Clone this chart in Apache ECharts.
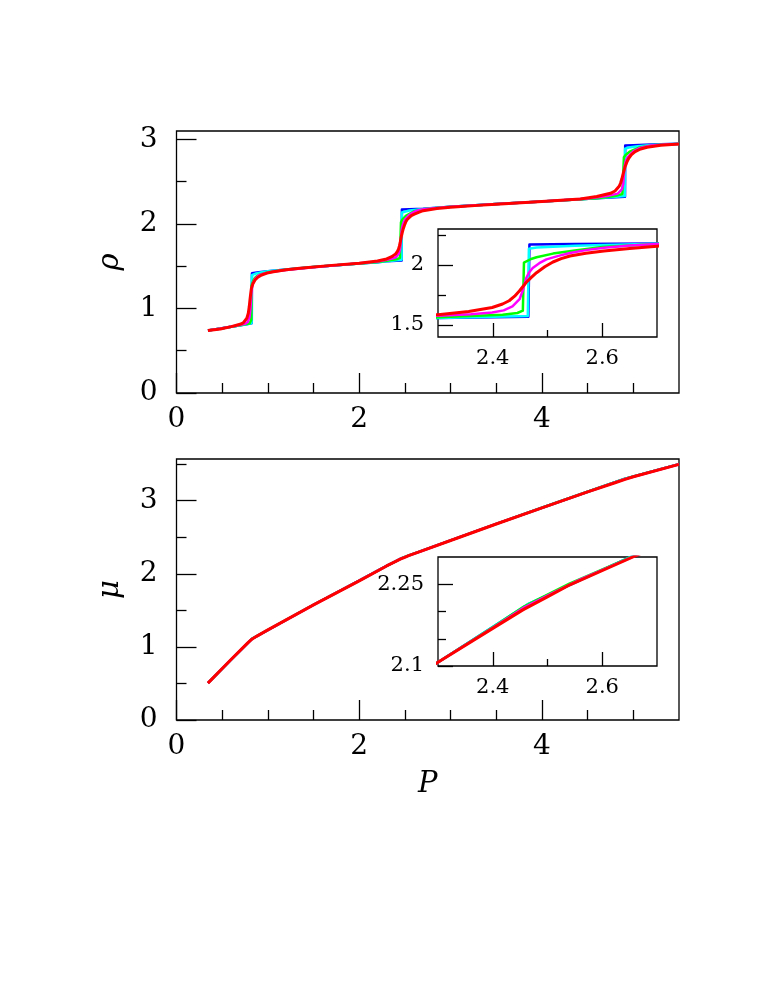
<!DOCTYPE html>
<html>
<head>
<meta charset="utf-8">
<script src="https://cdn.jsdelivr.net/npm/echarts@6/dist/echarts.min.js"></script>
<style>
  html, body { margin: 0; padding: 0; background: #fff; }
  #chart { width: 763px; height: 987px; }
</style>
</head>
<body>
<div id="chart"></div>
<script>
const rhoBlue = [[0.344, 0.74], [0.5, 0.767], [0.65, 0.793], [0.75, 0.811], [0.824, 0.825], [0.826, 1.418], [0.9, 1.43], [1.0, 1.44], [1.2, 1.46], [1.5, 1.49], [2.0, 1.532], [2.2, 1.547], [2.3, 1.558], [2.465, 1.569], [2.467, 2.171], [2.55, 2.174], [2.7, 2.18], [2.85, 2.193], [3.0, 2.205], [3.5, 2.235], [4.0, 2.265], [4.42, 2.292], [4.7, 2.31], [4.909, 2.323], [4.911, 2.927], [5.0, 2.932], [5.2, 2.94], [5.5, 2.948]]
const rhoCyan = [[0.344, 0.74], [0.5, 0.767], [0.65, 0.793], [0.75, 0.811], [0.822, 0.826], [0.824, 1.395], [0.86, 1.41], [0.92, 1.425], [1.0, 1.44], [1.2, 1.46], [1.5, 1.49], [2.0, 1.532], [2.2, 1.547], [2.3, 1.558], [2.464, 1.576], [2.466, 2.135], [2.48, 2.145], [2.55, 2.16], [2.7, 2.178], [2.85, 2.193], [3.0, 2.205], [3.5, 2.235], [4.0, 2.265], [4.42, 2.292], [4.7, 2.312], [4.907, 2.33], [4.909, 2.89], [4.95, 2.905], [5.05, 2.92], [5.2, 2.935], [5.5, 2.948]]
const rhoGreen = [[0.344, 0.74], [0.5, 0.767], [0.65, 0.793], [0.75, 0.812], [0.8, 0.822], [0.816, 0.84], [0.819, 0.87], [0.821, 1.27], [0.83, 1.30], [0.845, 1.34], [0.87, 1.375], [0.91, 1.40], [1.0, 1.43], [1.2, 1.458], [1.5, 1.49], [2.0, 1.532], [2.2, 1.549], [2.3, 1.564], [2.418, 1.586], [2.445, 1.60], [2.455, 1.62], [2.457, 2.02], [2.47, 2.05], [2.48, 2.065], [2.51, 2.095], [2.55, 2.12], [2.6, 2.15], [2.7, 2.175], [2.85, 2.19], [3.0, 2.205], [3.5, 2.235], [4.0, 2.265], [4.42, 2.292], [4.6, 2.305], [4.8, 2.33], [4.88, 2.355], [4.895, 2.375], [4.897, 2.79], [4.915, 2.815], [4.96, 2.855], [5.01, 2.88], [5.07, 2.905], [5.2, 2.93], [5.5, 2.947]]
const rhoMagenta = [[0.344, 0.74], [0.5, 0.767], [0.65, 0.795], [0.75, 0.818], [0.78, 0.84], [0.80, 0.90], [0.81, 1.0], [0.818, 1.15], [0.826, 1.25], [0.84, 1.31], [0.86, 1.35], [0.9, 1.39], [0.96, 1.415], [1.05, 1.435], [1.2, 1.455], [1.5, 1.488], [2.0, 1.535], [2.2, 1.555], [2.3, 1.577], [2.36, 1.59], [2.399, 1.605], [2.42, 1.622], [2.436, 1.655], [2.449, 1.715], [2.455, 1.79], [2.461, 1.89], [2.466, 1.935], [2.473, 1.975], [2.485, 2.015], [2.498, 2.047], [2.52, 2.076], [2.541, 2.10], [2.57, 2.124], [2.603, 2.144], [2.65, 2.162], [2.7, 2.174], [2.85, 2.19], [3.0, 2.204], [3.5, 2.235], [4.0, 2.265], [4.5, 2.30], [4.71, 2.33], [4.83, 2.359], [4.874, 2.409], [4.89, 2.47], [4.897, 2.58], [4.904, 2.678], [4.918, 2.748], [4.948, 2.803], [5.0, 2.858], [5.074, 2.9], [5.19, 2.928], [5.35, 2.94], [5.5, 2.947]]
const rhoRed = [[0.344, 0.74], [0.48, 0.757], [0.6, 0.785], [0.695, 0.813], [0.73, 0.83], [0.75, 0.848], [0.77, 0.885], [0.786, 0.943], [0.796, 1.02], [0.804, 1.10], [0.812, 1.175], [0.82, 1.239], [0.835, 1.29], [0.859, 1.337], [0.89, 1.37], [0.932, 1.396], [0.99, 1.418], [1.06, 1.435], [1.2, 1.458], [1.35, 1.476], [1.7, 1.51], [2.0, 1.535], [2.2, 1.562], [2.3, 1.586], [2.356, 1.613], [2.399, 1.646], [2.418, 1.675], [2.43, 1.702], [2.44, 1.74], [2.449, 1.785], [2.461, 1.854], [2.47, 1.895], [2.48, 1.936], [2.495, 1.985], [2.51, 2.025], [2.525, 2.053], [2.541, 2.075], [2.57, 2.098], [2.603, 2.116], [2.65, 2.138], [2.7, 2.157], [2.85, 2.182], [3.0, 2.198], [3.3, 2.22], [3.5, 2.234], [4.0, 2.265], [4.42, 2.296], [4.6, 2.325], [4.75, 2.363], [4.8, 2.39], [4.82, 2.41], [4.845, 2.445], [4.86, 2.482], [4.875, 2.535], [4.89, 2.60], [4.91, 2.678], [4.93, 2.735], [4.95, 2.778], [4.98, 2.82], [5.02, 2.856], [5.08, 2.887], [5.15, 2.908], [5.3, 2.932], [5.5, 2.945]]

// mu(P) curves, bottom panel and its inset
const muBlue = [[0.344, 0.505], [0.6, 0.83], [0.825, 1.11], [1.5, 1.576], [2.0, 1.905], [2.3, 2.107], [2.466, 2.214], [2.66, 2.304], [3.0, 2.457], [3.5, 2.683], [4.0, 2.903], [4.5, 3.122], [4.91, 3.30], [5.5, 3.50]]
const muCyan = [[0.344, 0.505], [0.6, 0.83], [0.825, 1.11], [1.5, 1.576], [2.0, 1.905], [2.3, 2.107], [2.465, 2.214], [2.66, 2.304], [3.0, 2.457], [3.5, 2.683], [4.0, 2.903], [4.5, 3.122], [4.91, 3.30], [5.5, 3.50]]
const muGreen = [[0.344, 0.505], [0.6, 0.83], [0.825, 1.11], [1.5, 1.576], [2.0, 1.905], [2.3, 2.107], [2.4, 2.171], [2.457, 2.209], [2.48, 2.221], [2.54, 2.251], [2.66, 2.303], [3.0, 2.457], [3.5, 2.683], [4.0, 2.903], [4.5, 3.122], [4.91, 3.30], [5.5, 3.50]]
const muMagenta = [[0.344, 0.505], [0.6, 0.83], [0.825, 1.108], [1.5, 1.575], [2.0, 1.905], [2.3, 2.107], [2.4, 2.17], [2.455, 2.206], [2.5, 2.229], [2.56, 2.259], [2.66, 2.302], [3.0, 2.456], [3.5, 2.682], [4.0, 2.902], [4.5, 3.121], [4.91, 3.297], [5.5, 3.499]]
const muRed = [[0.344, 0.505], [0.6, 0.83], [0.78, 1.055], [0.825, 1.105], [0.88, 1.148], [1.0, 1.232], [1.5, 1.574], [2.0, 1.904], [2.3, 2.107], [2.4, 2.169], [2.455, 2.203], [2.498, 2.226], [2.541, 2.249], [2.656, 2.30], [3.0, 2.455], [3.5, 2.681], [4.0, 2.901], [4.5, 3.12], [4.8, 3.245], [4.91, 3.292], [5.0, 3.327], [5.5, 3.497]]

// tick positions
const mainXMajor = [0, 2, 4]
const mainXMinor = [0.5, 1, 1.5, 2.5, 3, 3.5, 4.5, 5]
const topYMajor = [0, 1, 2, 3]
const topYMinor = [0.5, 1.5, 2.5]
const botYMajor = [0, 1, 2, 3]
const botYMinor = [0.5, 1.5, 2.5, 3.5]
const insetXMajor = [2.4, 2.6]
const insetXMinor = [2.5]
const topInsetYMajor = [1.5, 2]
const topInsetYMinor = [1.75, 2.25]
const botInsetYMajor = [2.1, 2.25]
const botInsetYMinor = [2.15, 2.2]

const colors = ['#0000ff', '#00ffff', '#00ff00', '#ff00ff', '#ff0000']
const font = 'DejaVu Serif'

function axis(pos, gridIndex, min, max, ticks, len, labels, fontSize, margin) {
  return {
    type: 'value',
    position: pos,
    gridIndex: gridIndex,
    min: min,
    max: max,
    axisLine: { show: false, onZero: false },
    splitLine: { show: false },
    axisTick: { show: true, inside: true, length: len, customValues: ticks, lineStyle: { color: '#000', width: 1.3 } },
    axisLabel: labels
      ? { show: true, customValues: labels, fontFamily: font, fontSize: fontSize, color: '#000', margin: margin }
      : { show: false }
  }
}

function named(ax, name, gap) {
  ax.name = name
  ax.nameLocation = 'middle'
  ax.nameGap = gap
  ax.nameTextStyle = { fontFamily: font, fontStyle: 'italic', fontSize: 29, color: '#000' }
  return ax
}

const xAxes = [
  axis('bottom', 0, 0, 5.5, mainXMajor, 20, mainXMajor, 28, 13),
  axis('bottom', 0, 0, 5.5, mainXMinor, 10),
  axis('bottom', 1, 2.3, 2.7, insetXMajor, 14, insetXMajor, 21, 11),
  axis('bottom', 1, 2.3, 2.7, insetXMinor, 7),
  named(axis('bottom', 2, 0, 5.5, mainXMajor, 20, mainXMajor, 28, 13), 'P', 50),
  axis('bottom', 2, 0, 5.5, mainXMinor, 10),
  axis('bottom', 3, 2.3, 2.7, insetXMajor, 14, insetXMajor, 21, 11),
  axis('bottom', 3, 2.3, 2.7, insetXMinor, 7)
]
const yAxes = [
  named(axis('left', 0, 0, 3.1, topYMajor, 20, topYMajor, 28, 19), 'ρ', 52),
  axis('left', 0, 0, 3.1, topYMinor, 10),
  axis('left', 1, 1.4, 2.3, topInsetYMajor, 15, topInsetYMajor, 21, 14),
  axis('left', 1, 1.4, 2.3, topInsetYMinor, 8),
  named(axis('left', 2, 0, 3.57, botYMajor, 20, botYMajor, 28, 19), 'μ', 52),
  axis('left', 2, 0, 3.57, botYMinor, 10),
  axis('left', 3, 2.1, 2.3, botInsetYMajor, 15, botInsetYMajor, 21, 14),
  axis('left', 3, 2.1, 2.3, botInsetYMinor, 8)
]

const rhoSets = [rhoBlue, rhoCyan, rhoGreen, rhoMagenta, rhoRed]
const muSets = [muBlue, muCyan, muGreen, muMagenta, muRed]

const series = []
function addLines(sets, axisIndex, width) {
  sets.forEach(function (d, i) {
    series.push({
      type: 'line',
      xAxisIndex: axisIndex,
      yAxisIndex: axisIndex,
      data: d,
      showSymbol: false,
      symbol: 'none',
      clip: true,
      lineStyle: { color: colors[i], width: i === 4 ? width + 0.5 : width, join: 'round' },
      z: 2 + i
    })
  })
}
addLines(rhoSets, 0, 2.5)
addLines(rhoSets, 2, 2.5)
addLines(muSets, 4, 2.5)
addLines(muSets, 6, 2.5)

const border = { show: true, borderColor: '#000', borderWidth: 1.3 }
const chart = echarts.init(document.getElementById('chart'))
chart.setOption({
  animation: false,
  backgroundColor: '#fff',
  grid: [
    Object.assign({ left: 176.5, top: 131, width: 502.5, height: 262 }, border),
    Object.assign({ left: 438, top: 229, width: 219, height: 108, backgroundColor: '#fff' }, border),
    Object.assign({ left: 176.5, top: 459, width: 502.5, height: 261 }, border),
    Object.assign({ left: 438, top: 557, width: 219, height: 109, backgroundColor: '#fff' }, border)
  ],
  xAxis: xAxes,
  yAxis: yAxes,
  series: series
})
</script>
</body>
</html>
